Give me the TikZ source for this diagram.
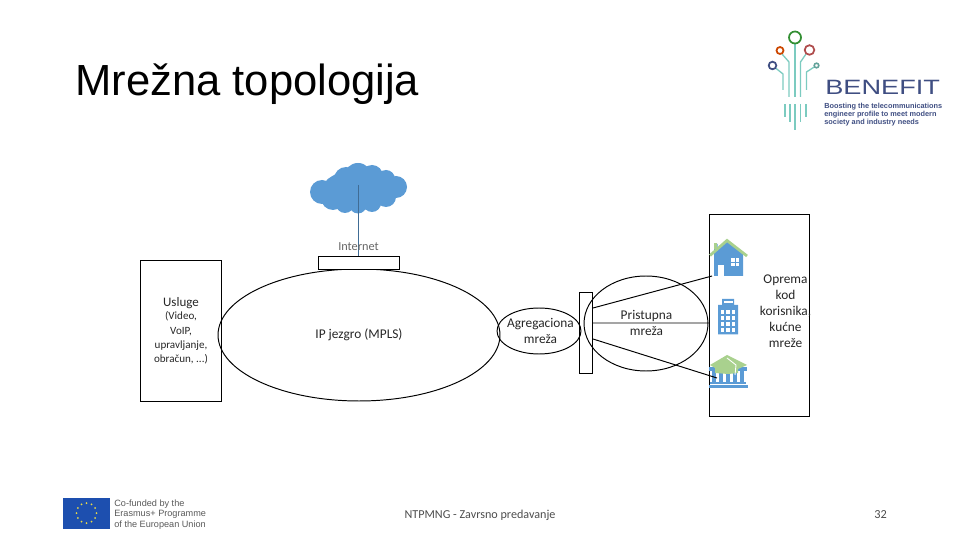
\documentclass[tikz,border=0pt]{standalone}
\usepackage{fontspec}
\setmainfont{Carlito}
\newfontfamily\titlefont{Liberation Sans}
\usetikzlibrary{calc,positioning,shapes.geometric}
\definecolor{iconblue}{HTML}{5B9BD5}
\definecolor{icongreen}{HTML}{A9D18E}
\definecolor{logoteal}{HTML}{7CCBC0}
\definecolor{logonavy}{HTML}{3F4E82}
\definecolor{eublue}{HTML}{1D4FAF}
\definecolor{euyellow}{HTML}{E8D94A}
\tikzset{
  netbox/.style={draw,line width=0.55pt,inner sep=0pt},
  netoval/.style={draw,ellipse,line width=0.55pt,inner sep=0pt},
  netlabel/.style={align=center,font=\fontsize{7.6}{9.1}\selectfont,text=black!85},
  netline/.style={line width=0.55pt},
  logotrace/.style={draw=logoteal,line width=0.75pt}
}
\begin{document}
\begin{tikzpicture}[x=0.02cm,y=-0.02cm]
  \useasboundingbox (0,0) rectangle (960,540);
  % title and footer
  \node[anchor=west,inner sep=0pt,font=\titlefont\fontsize{24.8}{28}\selectfont] (title) at (75,84) {Mrežna topologija};
  \node[inner sep=0pt,font=\fontsize{6.9}{9}\selectfont,text=black!70] (footer) at (480,515) {NTPMNG - Zavrsno predavanje};
  \node[inner sep=0pt,font=\fontsize{7}{9}\selectfont,text=black!70] (pagenum) at (880.5,515) {32};
  % cloud
  \fill[iconblue] (358,190) ellipse (36 and 20);
  \foreach \cx/\cy/\cr in {322/192/12,333/198/12,345/204/9,358/205/8.5,372/203/9,386/197/10,396/187/11,386/179/9,372/176/11,358/177/14,346/179/12}
    \fill[iconblue] (\cx,\cy) circle (\cr);
  \coordinate (cloudc) at (358.5,185);
  % shapes of the network
  \node[netbox,minimum width=1.62cm,minimum height=2.81cm] (services) at (180.75,330.75) {};
  \node[netoval,minimum width=5.64cm,minimum height=2.64cm] (core) at (359,335) {};
  \node[netbox,minimum width=1.62cm,minimum height=0.26cm,fill=white] (gateway) at (358.5,262.5) {};
  \node[netoval,minimum width=1.68cm,minimum height=0.92cm] (aggr) at (539,331) {};
  \node[netoval,minimum width=2.48cm,minimum height=1.9cm] (access) at (646,323.5) {};
  \node[netbox,minimum width=0.27cm,minimum height=1.62cm] (mux) at (586,332.5) {};
  \node[netbox,minimum width=2cm,minimum height=4.06cm] (premises) at (759,315.5) {};
  \draw[netline,draw=iconblue!70!black] (cloudc) -- (gateway.north);
  % house
  \fill[iconblue] (714,276) -- (714,244) -- (717.5,244) -- (717.5,248) -- (728,241) -- (743,254) -- (743,276) -- cycle;
  \draw[icongreen,line width=1.6pt] (710,255.5) -- (727,240.5) -- (747,256);
  \fill[icongreen] (714,243) rectangle (717,249);
  \fill[white] (718,265) rectangle (724,276);
  \fill[white] (731,258) rectangle (739,266);
  \draw[iconblue,line width=0.5pt] (735,258) -- (735,266) (731,262) -- (739,262);
  % office block
  \fill[iconblue] (718,334.5) -- (718,305) -- (722,305) -- (722,299) -- (734,299) -- (734,305) -- (738,305) -- (738,334.5) -- cycle;
  \fill[white] (723.5,301.5) rectangle (732.5,303);
  \foreach \wy in {310,316,322,328}
    \foreach \wx in {720.5,726,731.5}
      \fill[white] (\wx,\wy) rectangle ++(3.8,3.8);
  % school
  \fill[iconblue] (709,367) rectangle (747,371);
  \foreach \colx in {712,719,726,733,740}
    \fill[iconblue] (\colx,371) rectangle ++(3.5,11);
  \fill[iconblue] (710,382.5) rectangle (746,384.5);
  \fill[iconblue] (709,385.5) rectangle (747.5,388.5);
  \fill[icongreen] (710,365) -- (727,355) -- (747,365) -- (738,369) -- (738,373) -- (728,374) -- (715,373) -- (715,368) -- cycle;
  \draw[white,line width=0.5pt] (727,358) -- (736,365) -- (735,375);
  % links
  \coordinate (muxa) at (593,308);
  \coordinate (muxb) at (593,323);
  \coordinate (muxc) at (593,339);
  \coordinate (househ) at (712,276);
  \coordinate (officeh) at (709,323);
  \coordinate (schoolh) at (717,378);
  \draw[netline] (muxa) -- (househ) (muxb) -- (officeh) (muxc) -- (schoolh);
  % labels
  \node[netlabel,text=black!60,font=\fontsize{7}{9}\selectfont] (internetlbl) at (358.5,247) {Internet};
  \node[netlabel,font=\fontsize{7.4}{9}\selectfont] (uslugelbl) at (181,303) {Usluge};
  \node[netlabel,font=\fontsize{6.3}{8.2}\selectfont] (uslugetxt) at (181,338) {(Video,\\VoIP,\\upravljanje,\\obračun, ...)};
  \node[netlabel] (corelbl) at (359,335) {IP jezgro (MPLS)};
  \node[netlabel] (aggrlbl) at (540.5,331) {Agregaciona\\mreža};
  \node[netlabel] (accesslbl) at (646.5,322.5) {Pristupna\\mreža};
  \node[netlabel] (premlbl) at (785.5,311) {Oprema\\kod\\korisnika,\\kućne\\mreže};
  % logo on the right
  \draw[logotrace] (795,44) -- (795,97);
  \draw[logotrace] (782,54) -- (789,62) -- (789,97);
  \draw[logotrace] (806,54) -- (800.5,62) -- (800.5,97);
  \draw[logotrace] (775.5,68) -- (783,74) -- (783,90);
  \draw[logotrace] (815,66.5) -- (806.5,72) -- (806.5,90);
  \foreach \tx/\ta/\tb in {785/104/117,790/104/122,795/104/130,800.5/104/122,806/104/117}
    \draw[logotrace] (\tx,\ta) -- (\tx,\tb);
  \draw[draw=green!45!black!80,line width=1pt] (795,37.5) circle (6);
  \draw[draw=orange!70!red!80!black,line width=1pt] (780,50.5) circle (3.5);
  \draw[draw=red!55!black!70,line width=1pt] (809.5,50) circle (4.8);
  \draw[draw=logonavy,line width=1pt] (772.5,65.5) circle (3.8);
  \draw[draw=logoteal!80!black,line width=0.9pt] (816.5,65.5) circle (2.3);
  \node[anchor=west,inner sep=0pt,text=logonavy,font=\titlefont\fontsize{11.8}{13}\selectfont] (benefit) at (825,87.5) {\scalebox{1.31}[1]{BENEFIT}};
  \node[anchor=north west,inner sep=0pt,align=left,text=logonavy,font=\titlefont\bfseries\fontsize{4.18}{4.45}\selectfont] (benefittxt) at (824,103) {Boosting the telecommunications\\engineer profile to meet modern\\society and industry needs};
  % EU flag
  \fill[eublue] (63,498) rectangle (110,528.5);
  \foreach \ang in {0,30,...,330}
    \fill[euyellow] ($(86.5,513)+(\ang:10)$) circle (1);
  \node[anchor=north west,inner sep=0pt,align=left,text=black!65,font=\titlefont\fontsize{5.2}{5.95}\selectfont] (eutxt) at (114,499.5) {Co-funded by the\\Erasmus+ Programme\\of the European Union};
\end{tikzpicture}
\end{document}
